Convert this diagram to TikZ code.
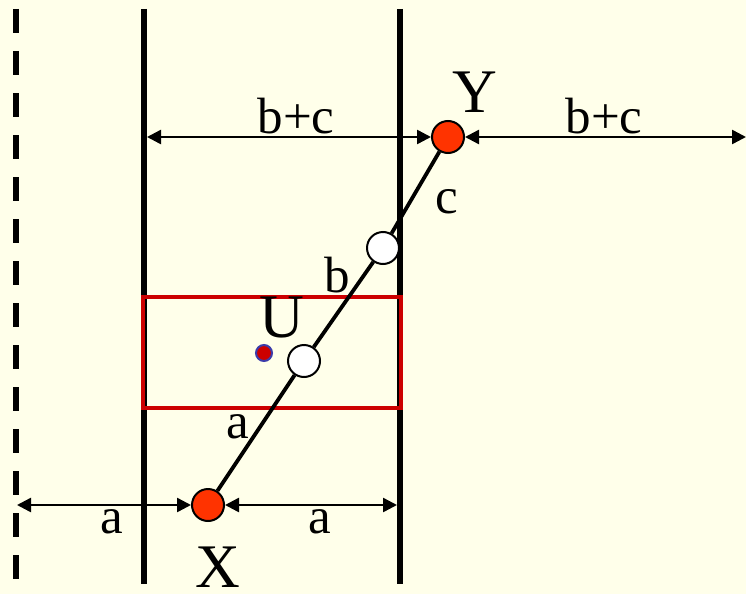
\documentclass[tikz,border=0pt]{standalone}
\usepackage{fontspec}
\setmainfont{Liberation Serif}
\usetikzlibrary{arrows.meta}
\definecolor{bgcol}{RGB}{255,255,234}
\definecolor{ptred}{RGB}{255,51,0}
\definecolor{boxred}{RGB}{204,0,0}
\definecolor{dotblue}{RGB}{60,60,170}
\begin{document}
\begin{tikzpicture}[x=1pt,y=-1pt,
  wall/.style={line width=6pt},
  dashwall/.style={line width=6pt,dash pattern=on 24pt off 18pt},
  pt/.style={circle,draw=black,line width=2pt,minimum size=32pt,inner sep=0pt},
  redpt/.style={pt,fill=ptred},
  whitept/.style={pt,fill=white},
  link/.style={line width=3.8pt},
  dim/.style={line width=2.5pt,{Triangle[length=14pt,width=14pt]}-{Triangle[length=14pt,width=14pt]}},
  lbl/.style={anchor=base,inner sep=0pt,font=\fontsize{51}{56}\selectfont},
  big/.style={anchor=base,inner sep=0pt,font=\fontsize{62}{70}\selectfont}]
\fill[bgcol] (0,0) rectangle (746,594);
\useasboundingbox (0,0) rectangle (746,594);
% walls
\draw[dashwall] (16,9) -- (16,581);
\draw[wall] (144,9) -- (144,584);
\draw[wall] (400,9) -- (400,584);
% box
\draw[boxred,line width=3.8pt] (143,297) rectangle (401,408);
% points
\node[redpt] (X) at (208,505) {};
\node[redpt] (Y) at (448,137) {};
\node[whitept] (W1) at (304,361) {};
\node[whitept] (W2) at (383,248) {};
\node[circle,fill=boxred,draw=dotblue,line width=2pt,minimum size=16pt,inner sep=0pt] (U) at (264,353) {};
% links
\draw[link] (X) -- (W1);
\draw[link] (W1) -- (W2);
\draw[link] (W2) -- (Y);
% dimensions
\coordinate (tl) at (147,137);
\coordinate (tr) at (746,137);
\coordinate (bl) at (17,505);
\coordinate (br) at (397,505);
\draw[dim] (tl) -- (Y);
\draw[dim] (Y) -- (tr);
\draw[dim] (bl) -- (X);
\draw[dim] (X) -- (br);
% labels
\node[lbl] (lbc1) at (296,133) {b+c};
\node[lbl] (lbc2) at (604,133) {b+c};
\node[lbl] (lc) at (447,213) {c};
\node[lbl] (lb) at (337,292) {b};
\node[lbl] (la1) at (238,438) {a};
\node[lbl] (la2) at (112,533) {a};
\node[lbl] (la3) at (320,533) {a};
\node[big] (lY) at (475,112) {Y};
\node[big] (lU) at (282,337) {U};
\node[big] (lX) at (218,587) {X};
\end{tikzpicture}
\end{document}
